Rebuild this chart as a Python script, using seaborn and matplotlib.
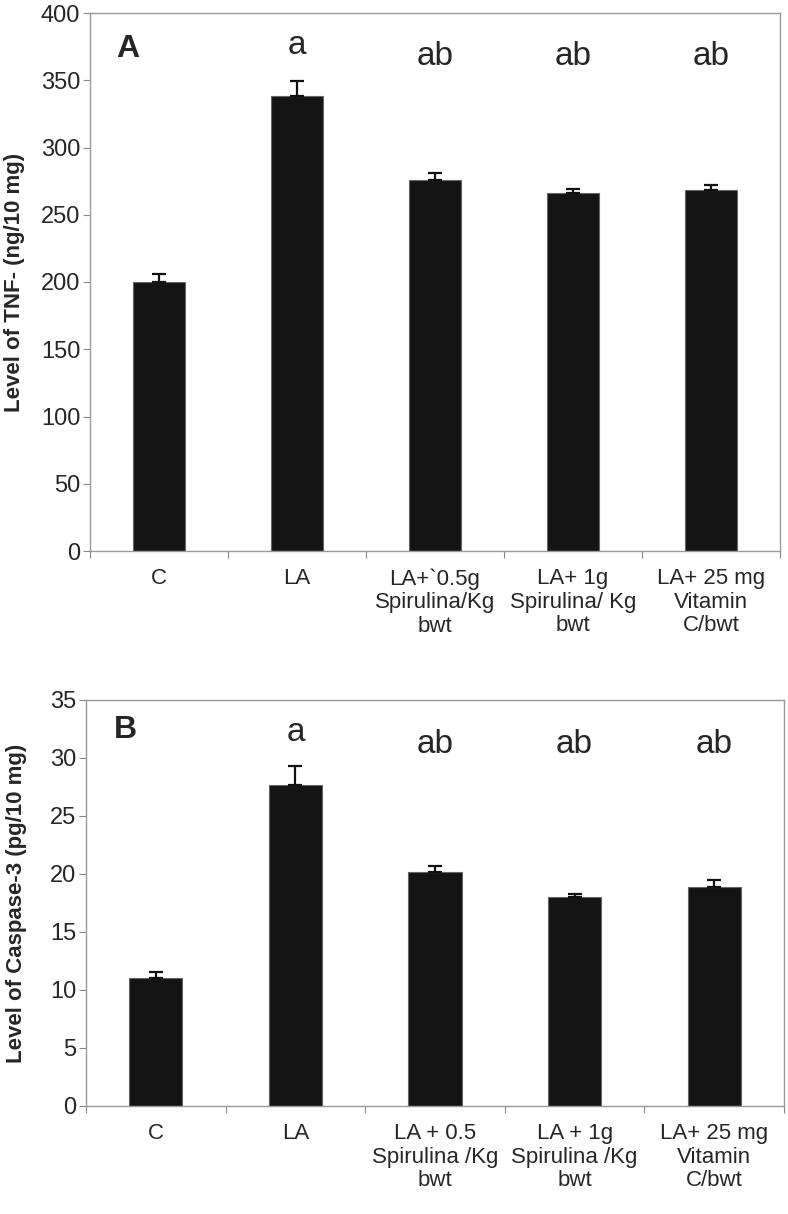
import numpy as np
import pandas as pd
import matplotlib
matplotlib.use("Agg")
import matplotlib.pyplot as plt
import seaborn as sns

# panel A: TNF level
labels_a = ["C", "LA", "LA+`0.5g\nSpirulina/Kg\nbwt", "LA+ 1g\nSpirulina/ Kg\nbwt",
            "LA+ 25 mg\nVitamin\nC/bwt"]
tnf = [200, 338, 276, 266, 268.5]
tnf_err = [6, 11.5, 5, 3.2, 3.5]

# panel B: caspase-3 level
labels_b = ["C", "LA", "LA + 0.5\nSpirulina /Kg\nbwt", "LA + 1g\nSpirulina /Kg\nbwt",
            "LA+ 25 mg\nVitamin\nC/bwt"]
casp = [11.0, 27.65, 20.15, 18.0, 18.85]
casp_err = [0.55, 1.65, 0.55, 0.25, 0.65]

sig = ["", "a", "ab", "ab", "ab"]

sns.set_style("white")
plt.rcParams['font.family'] = ['Liberation Sans', 'DejaVu Sans']

fig = plt.figure(figsize=(7.88, 12.14), dpi=100)
ax_a = fig.add_axes([90 / 788, 663 / 1214, 690 / 788, 538 / 1214])
ax_b = fig.add_axes([86 / 788, 108 / 1214, 698 / 788, 406 / 1214])


def draw_panel(ax, labels, vals, errs, ymax, ystep, ylabel, letter, letter_xy,
               sig_ys, lab_x):
    df = pd.DataFrame({"group": labels, "value": vals})
    sns.barplot(data=df, x="group", y="value", color="#141414", width=0.38,
                edgecolor="#666666", linewidth=0.8, saturation=1, ax=ax)
    x = np.arange(len(vals))
    # upper whisker only
    ax.errorbar(x, vals, yerr=[np.zeros(len(errs)), errs], fmt="none",
                ecolor="#111111", elinewidth=1.6, capsize=5, capthick=1.6)
    ax.set_xlim(-0.5, len(vals) - 0.5)
    ax.set_ylim(0, ymax)
    ax.set_yticks(np.arange(0, ymax + ystep / 2, ystep))
    ax.set_xticks(np.arange(-0.5, len(vals)), minor=True)
    ax.tick_params(axis="y", which="major", left=True, length=5, width=0.8,
                   color="#888888", labelsize=17, pad=2)
    ax.tick_params(axis="x", which="major", bottom=False, labelsize=16, pad=9)
    ax.tick_params(axis="x", which="minor", bottom=True, length=5, width=0.8,
                   color="#888888")
    for t in ax.get_xticklabels():
        t.set_linespacing(1.15)
    for s in ax.spines.values():
        s.set_visible(True)
        s.set_color("#999999")
        s.set_linewidth(1)
    ax.set_xlabel("")
    ax.set_ylabel(ylabel, fontsize=16, fontweight="bold")
    ax.yaxis.set_label_coords(lab_x, 0.5)
    ax.text(letter_xy[0], letter_xy[1], letter, transform=ax.transAxes, fontsize=23,
            fontweight="bold", ha="center", va="center")
    for i, s in enumerate(sig):
        if s:
            ax.text(i, sig_ys[s], s, transform=ax.get_xaxis_transform(), fontsize=24,
                    ha="center", va="center")


draw_panel(ax_a, labels_a, tnf, tnf_err, 400, 50, "Level of TNF- (ng/10 mg)", "A",
           (0.055, 0.933), {"a": 0.94, "ab": 0.92}, -0.094)
draw_panel(ax_b, labels_b, casp, casp_err, 35, 5, "Level of Caspase-3 (pg/10 mg)", "B",
           (0.056, 0.926), {"a": 0.92, "ab": 0.89}, -0.084)

fig.savefig("out.png", dpi=100)
